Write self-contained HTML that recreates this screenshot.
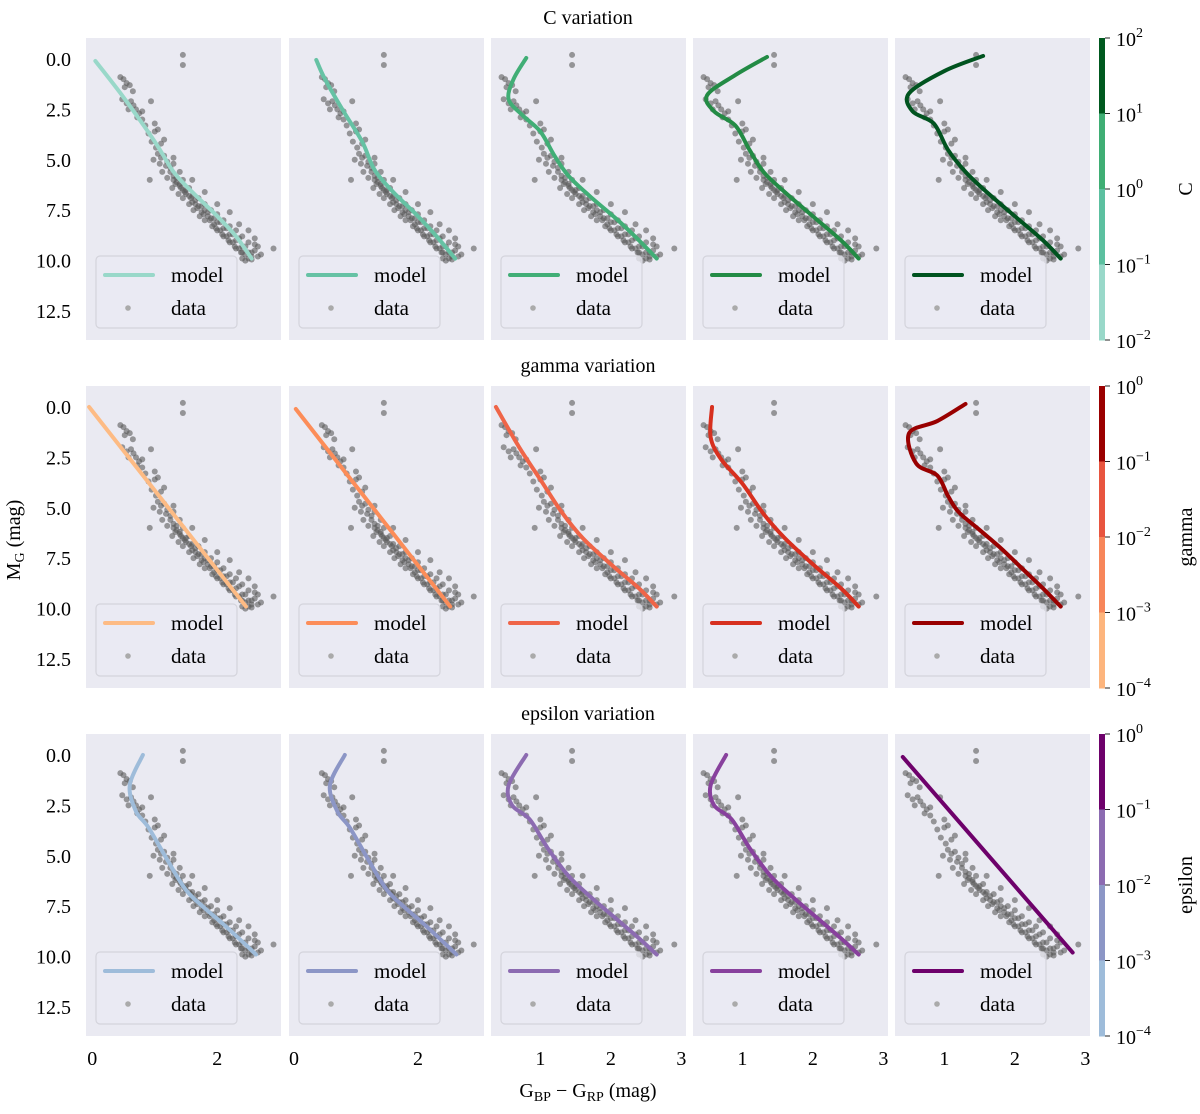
<!DOCTYPE html>
<html><head><meta charset="utf-8"><style>
body{margin:0;background:#fff}
svg, svg text{font-family:"Liberation Serif","DejaVu Serif",serif}
</style></head><body>
<svg id="c" width="1200" height="1109" viewBox="0 0 1200 1109" font-family="Liberation Serif, DejaVu Serif, serif"></svg>
<script>
const dataPts=[[0.45,0.9],[0.5,1.0],[0.55,1.2],[0.6,1.3],[0.65,1.6],[0.52,1.4],[0.48,2.0],[0.55,2.2],[0.62,2.1],[0.58,2.5],[0.7,2.5],[0.72,2.9],[0.8,3.0],[0.85,3.3],[0.94,2.1],[0.9,3.7],[1.0,3.6],[1.05,3.5],[0.95,4.1],[1.02,4.4],[1.1,4.2],[1.15,4.8],[1.05,4.7],[0.98,5.0],[1.08,5.2],[1.2,5.1],[1.25,5.4],[1.12,5.6],[1.3,5.2],[1.3,5.8],[1.2,5.9],[1.35,6.1],[0.92,6.0],[1.4,6.3],[1.28,6.4],[1.45,6.0],[1.5,6.5],[1.38,6.7],[1.55,6.4],[1.6,6.8],[1.45,6.9],[1.65,7.0],[1.55,7.2],[1.7,6.9],[1.75,7.3],[1.62,7.5],[1.8,7.2],[1.85,7.6],[1.72,7.8],[1.9,7.5],[1.95,7.9],[1.8,8.0],[2.0,7.7],[2.05,8.1],[1.92,8.3],[2.1,8.0],[2.15,8.4],[2.0,8.5],[2.2,8.3],[2.25,8.7],[2.1,8.8],[2.3,8.5],[2.35,8.9],[2.2,9.1],[2.4,8.8],[2.45,9.3],[2.3,9.4],[2.5,9.1],[2.55,9.6],[2.4,9.6],[2.6,9.5],[2.65,9.8],[2.5,9.9],[2.55,9.95],[2.7,9.7],[2.9,9.4],[2.6,8.9],[2.5,8.5],[2.35,8.2],[2.2,7.6],[2.0,7.2],[1.8,6.6],[1.6,6.0],[1.4,5.6],[1.3,4.9],[1.15,4.0],[1.0,3.2],[0.8,2.6],[1.45,-0.2],[1.45,0.3],[2.6,9.2],[2.65,9.3],[2.4,9.9],[2.45,10.0],[1.3,6.0],[1.4,6.2],[1.5,6.7],[1.6,7.1],[1.7,7.3],[1.8,7.5],[1.9,7.9],[2.0,8.1],[2.1,8.4],[2.2,8.7],[2.3,9.0],[2.4,9.3],[2.5,9.6],[1.35,5.9],[1.45,6.5],[1.55,6.8],[1.65,7.2],[1.75,7.6],[1.85,7.8],[1.95,8.2],[2.05,8.5],[2.15,8.8],[2.25,9.1],[2.35,9.4],[2.45,9.7],[1.25,5.6],[1.42,6.4],[1.33,6.2],[1.48,6.6],[1.58,6.9],[1.68,7.4],[1.78,7.7],[1.88,8.0],[1.98,8.4],[2.08,8.7],[2.18,9.0],[2.28,9.3],[2.38,9.6],[2.55,9.8],[1.18,5.3],[1.1,4.9],[0.75,2.7],[0.66,2.3]];
const modelC=[
[[0.05,0.1],[0.5,1.9],[1.0,4.1],[1.3,5.6],[1.6,6.6],[2.0,7.8],[2.3,8.8],[2.55,9.9]],
[[0.36,0.05],[0.5,1.0],[0.8,2.6],[1.1,4.1],[1.3,5.5],[1.6,6.6],[2.0,7.8],[2.3,8.8],[2.6,9.9]],
[[0.8,-0.05],[0.62,1.0],[0.55,2.0],[0.75,2.8],[1.0,3.6],[1.2,4.8],[1.4,5.8],[1.7,6.8],[2.1,8.0],[2.4,9.0],[2.65,9.9]],
[[1.35,-0.1],[0.9,0.8],[0.5,1.8],[0.6,2.6],[0.9,3.3],[1.1,4.5],[1.3,5.6],[1.6,6.6],[2.0,7.8],[2.4,9.0],[2.65,9.9]],
[[1.55,-0.15],[1.0,0.6],[0.5,1.7],[0.55,2.6],[0.85,3.2],[1.05,4.5],[1.3,5.6],[1.6,6.6],[2.0,7.8],[2.4,9.0],[2.65,9.9]]];
const modelGamma=[
[[-0.05,0.0],[2.46,9.9]],
[[0.03,0.1],[2.52,9.9]],
[[0.37,0.0],[0.7,2.0],[1.0,3.6],[1.3,5.2],[1.6,6.5],[2.0,7.8],[2.4,9.0],[2.65,9.9]],
[[0.57,0.0],[0.55,1.5],[0.7,2.6],[1.0,3.8],[1.3,5.3],[1.6,6.5],[2.0,7.8],[2.4,9.0],[2.65,9.9]],
[[1.3,-0.15],[0.9,0.7],[0.5,1.3],[0.6,2.8],[0.9,3.4],[1.05,4.4],[1.2,5.2],[1.5,6.1],[1.8,7.0],[2.1,8.0],[2.4,9.0],[2.65,9.9]]];
const modelEps=[
[[0.81,0.0],[0.6,1.5],[0.7,2.8],[0.9,3.6],[1.2,5.2],[1.5,6.7],[1.8,7.6],[2.1,8.4],[2.45,9.4],[2.62,9.9]],
[[0.82,0.0],[0.58,1.5],[0.7,2.8],[0.9,3.6],[1.2,5.2],[1.5,6.7],[1.8,7.6],[2.1,8.4],[2.45,9.4],[2.62,9.9]],
[[0.8,0.0],[0.55,1.5],[0.6,2.5],[0.85,3.2],[1.1,4.6],[1.4,6.0],[1.7,7.0],[2.1,8.2],[2.4,9.1],[2.65,9.9]],
[[0.77,0.0],[0.55,1.5],[0.6,2.5],[0.85,3.2],[1.1,4.6],[1.4,6.0],[1.7,7.0],[2.1,8.2],[2.4,9.1],[2.65,9.9]],
[[0.41,0.1],[2.82,9.8]]];
const yTicks=[0,2.5,5,7.5,10,12.5];
const yTickLabels=["0.0","2.5","5.0","7.5","10.0","12.5"];
const rowTitles=["C variation","gamma variation","epsilon variation"];
const cbarNames=["C","gamma","epsilon"];
const cbarExps=[["2","1","0","−1","−2"],["0","−1","−2","−3","−4"],["0","−1","−2","−3","−4"]];
const NS="http://www.w3.org/2000/svg";
const FF="Liberation Serif, DejaVu Serif, serif";
const svg=document.getElementById('c');
function mk(t,a,p){const e=document.createElementNS(NS,t);for(const k in a)e.setAttribute(k,a[k]);if(t==='text')e.setAttribute('font-family',FF);(p||svg).appendChild(e);return e;}
const rows=[{top:38,model:modelC,cols:["#99d8c9","#66c2a4","#41ae76","#238b45","#00531f"],cb:["#00591f","#3fae74","#5cc0a0","#99d8c9"]},
{top:386,model:modelGamma,cols:["#fdbb84","#fc8d59","#ef6548","#d7301f","#990000"],cb:["#9b0000","#e8553f","#f7865a","#fdb57d"]},
{top:734,model:modelEps,cols:["#9ebcda","#8c96c6","#8c6bb1","#88419d","#6e016b"],cb:["#6e016b","#8c6bb1","#8c96c6","#9ebcda"]}];
const panels=[{l:86,x0:-0.1,s:62.5},{l:289,x0:-0.08,s:62},{l:491,x0:0.3,s:70.5},{l:693,x0:0.3,s:70.5},{l:895,x0:0.3,s:70.5}];
const xTicks=[[0,2],[0,2],[1,2,3],[1,2,3],[1,2,3]];
const PW=195,PH=302,YS=20.16,Y0=-1.04;
function pathOf(pts){if(pts.length<3)return "M"+pts.map(p=>p.join(",")).join("L");
let d="M"+pts[0][0]+","+pts[0][1];
for(let i=0;i<pts.length-1;i++){const p0=pts[Math.max(0,i-1)],p1=pts[i],p2=pts[i+1],p3=pts[Math.min(pts.length-1,i+2)];
const c1=[p1[0]+(p2[0]-p0[0])/6,p1[1]+(p2[1]-p0[1])/6],c2=[p2[0]-(p3[0]-p1[0])/6,p2[1]-(p3[1]-p1[1])/6];
d+="C"+c1.join(",")+" "+c2.join(",")+" "+p2.join(",");}return d;}
rows.forEach((r,ri)=>{
  const t=mk('text',{x:588,y:r.top-14,'font-size':20,'text-anchor':'middle'});t.textContent=rowTitles[ri];
  
  panels.forEach((p,pi)=>{
    const g=mk('g',{});
    
    mk('rect',{x:p.l,y:r.top,width:PW,height:PH,fill:'#eaeaf2'},g);
    const X=v=>p.l+(v-p.x0)*p.s, Y=v=>r.top+(v-Y0)*YS;
    const cl='cl'+ri+pi;const cp=mk('clipPath',{id:cl},g);mk('rect',{x:p.l,y:r.top,width:PW,height:PH},cp);
    const dg=mk('g',{'clip-path':'url(#'+cl+')'},g);
    dataPts.forEach(d=>{const c=mk('circle',{cx:X(d[0]),cy:Y(d[1]),r:3,fill:'#5a5a5a','fill-opacity':0.6},dg);
      });
    const ln=mk('path',{d:pathOf(r.model[pi].map(q=>[X(q[0]),Y(q[1])])),fill:'none',stroke:r.cols[pi],'stroke-width':4,'stroke-linecap':'round'},dg);
    
    const lg=mk('g',{},g);
    const lx=p.l+10,ly=r.top+218;
    mk('rect',{x:lx,y:ly,width:141,height:72,rx:4,fill:'#eaeaf2','fill-opacity':0.8,stroke:'#d4d4dc','stroke-width':1.2},lg);
    mk('line',{x1:lx+9,y1:ly+19,x2:lx+57,y2:ly+19,stroke:r.cols[pi],'stroke-width':4,'stroke-linecap':'round'},lg);
    const t1=mk('text',{x:lx+75,y:ly+26,'font-size':21},lg);t1.textContent='model';
    mk('circle',{cx:lx+32,cy:ly+52,r:2.8,fill:'#aaa'},lg);
    const t2=mk('text',{x:lx+75,y:ly+59,'font-size':21},lg);t2.textContent='data';
    if(pi==0){yTicks.forEach((v,i)=>{const tt=mk('text',{x:p.l-15,y:Y(v)+7,'font-size':20,'text-anchor':'end'});tt.textContent=yTickLabels[i];
      });}
    if(ri==2){xTicks[pi].forEach(v=>{const tt=mk('text',{x:X(v),y:r.top+PH+29,'font-size':20,'text-anchor':'middle'});tt.textContent=v;
      });}
  });
  const cg=mk('g',{});
  const n=r.cb.length,h=PH/n;
  r.cb.forEach((c,i)=>mk('rect',{x:1099,y:r.top+i*h,width:6,height:h+0.5,fill:c},cg));
  const ex=cbarExps[ri];const step=PH/(ex.length-1);
  ex.forEach((e,i)=>{const yy=r.top+i*step;mk('line',{x1:1105,y1:yy,x2:1110,y2:yy,stroke:'#222','stroke-width':1},cg);
    const tt=mk('text',{x:1116,y:yy+8,'font-size':20},cg);tt.innerHTML='10<tspan dy="-9" font-size="14">'+e+'</tspan>';});
  const nm=mk('text',{x:1192,y:r.top+PH/2,'font-size':20,'text-anchor':'middle',transform:'rotate(-90 1192 '+(r.top+PH/2)+')'},cg);nm.textContent=cbarNames[ri];
});
const yl=mk('text',{x:20,y:540,'font-size':20,'text-anchor':'middle',transform:'rotate(-90 20 540)'});
yl.innerHTML='M<tspan dy="4" font-size="14">G</tspan><tspan dy="-4"> (mag)</tspan>';

const xl=mk('text',{x:588,y:1097,'font-size':20,'text-anchor':'middle'});
xl.innerHTML='G<tspan dy="4" font-size="14">BP</tspan><tspan dy="-4"> − G</tspan><tspan dy="4" font-size="14">RP</tspan><tspan dy="-4"> (mag)</tspan>';

</script>
</body></html>
